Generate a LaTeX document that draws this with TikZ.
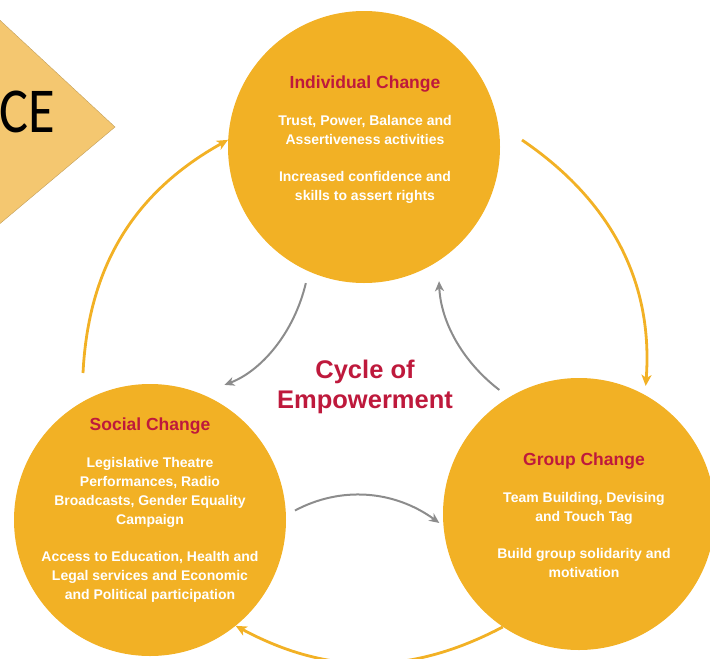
\documentclass[tikz,border=0pt]{standalone}
\usepackage{fontspec}
\setmainfont{Liberation Sans}
\newfontfamily\calibfont{Carlito}
\usetikzlibrary{arrows.meta}

\definecolor{changeorange}{RGB}{242,177,37}
\definecolor{titlered}{RGB}{190,25,60}
\definecolor{arrowgray}{RGB}{140,140,140}
\definecolor{chevronfill}{RGB}{244,199,112}

\begin{document}
\begin{tikzpicture}[x=1pt,y=1pt,
	change/.style={circle,fill=changeorange,inner sep=0pt,minimum size=272pt},
	changetext/.style={anchor=north,align=center,text=white,inner sep=0pt,font=\bfseries\fontsize{14}{19}\selectfont},
	cycletext/.style={align=center,text=titlered,inner sep=0pt,font=\bfseries\fontsize{25.5}{30}\selectfont},
	outerarrow/.style={draw=changeorange,line width=2.8pt,-{Stealth[length=11pt,width=10pt,inset=3pt]}},
	innerarrow/.style={draw=arrowgray,line width=2pt,-{Stealth[length=10pt,width=9pt,inset=3pt]}}]
	\useasboundingbox (0,0) rectangle (710,-659);
	
	\newcommand\changeTitle[1]{{\color{titlered}\fontsize{17.5}{19}\selectfont #1}}
	
	\filldraw[fill=chevronfill,draw=chevronfill!80!black,line width=0.4pt] (-10,-11) -- (115,-127) -- (-10,-232) -- cycle;
	\node[anchor=base east,inner sep=0pt,font=\calibfont\fontsize{64}{66}\selectfont] (ce) at (55,-132) {\scalebox{0.85}[1]{CE}};
	
	\node[change] (ind) at (364,-147) {};
	\node[change] (soc) at (150,-520) {};
	\node[change] (grp) at (579,-514) {};
	
	\node[changetext] (indtext) at (365,-76) {\changeTitle{Individual Change}\\[18pt]Trust, Power, Balance and\\Assertiveness activities\\[18pt]Increased confidence and\\skills to assert rights};
	\node[changetext] (soctext) at (150,-418) {\changeTitle{Social Change}\\[18pt]Legislative Theatre\\Performances, Radio\\Broadcasts, Gender Equality\\Campaign\\[18pt]Access to Education, Health and\\Legal services and Economic\\and Political participation};
	\node[changetext] (grptext) at (584,-453) {\changeTitle{Group Change}\\[18pt]Team Building, Devising\\and Touch Tag\\[18pt]Build group solidarity and\\motivation};
	
	\node[cycletext] (cycle) at (365,-387) {Cycle of\\Empowerment};
	
	\coordinate (socout) at (83,-373);
	\coordinate (indout) at (522,-140);
	
	\draw[outerarrow] (socout) to[bend left=29] (ind.177);
	\draw[outerarrow,shorten >=9pt] (indout) to[bend left=30] (grp.61);
	\draw[outerarrow] (grp.236) to[bend left=28] (soc.309);
	
	\draw[innerarrow,shorten <=12pt,shorten >=25pt] (ind.246) to[bend left=28] (soc.68);
	\draw[innerarrow,shorten <=10pt,shorten >=5pt] (soc.2) to[bend left=32] (grp.185);
	\draw[innerarrow,shorten <=12pt,shorten >=20pt] (grp.121) to[bend left=25] (ind.303);
\end{tikzpicture}
\end{document}
